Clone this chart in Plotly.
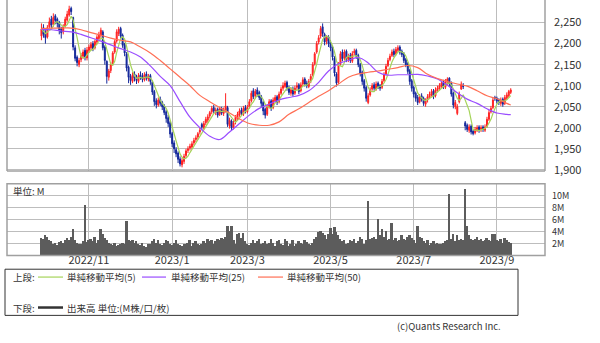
import numpy as np
import pandas as pd
import plotly.graph_objects as go

# ---------------- data ----------------
START_DATE = "2022-09-27"
END_DATE = "2023-09-12"
JP_HOLIDAYS = ["2022-10-10", "2022-11-03", "2022-11-23", "2023-01-02", "2023-01-03",
               "2023-01-09", "2023-02-23", "2023-03-21", "2023-05-03", "2023-05-04",
               "2023-05-05", "2023-07-17", "2023-08-11"]

open_ = [2218,2238,2226,2216,2240,2258,2246,2266,2258,2250,
         2236,2228,2242,2256,2268,2284,2262,2190,2168,2150,
         2162,2170,2184,2166,2184,2190,2200,2190,2204,2212,
         2220,2228,2192,2158,2120,2136,2152,2180,2206,2224,
         2236,2220,2198,2176,2144,2122,2110,2128,2120,2110,
         2126,2122,2114,2128,2116,2124,2108,2086,2064,2054,
         2068,2060,2052,2038,2024,2012,1986,1964,1948,1940,
         1926,1912,1920,1934,1946,1952,1954,1964,1972,1978,
         1990,2008,2000,2012,2018,2028,2038,2048,2036,2044,
         2032,2046,2034,2040,2048,2004,2016,2000,2014,2022,
         2030,2042,2032,2048,2038,2050,2064,2088,2076,2090,
         2084,2074,2060,2044,2032,2052,2064,2048,2064,2074,
         2062,2082,2094,2098,2108,2096,2082,2092,2082,2096,
         2102,2088,2104,2116,2106,2098,2112,2126,2152,2180,
         2204,2218,2240,2222,2206,2216,2202,2192,2166,2128,
         2108,2152,2180,2166,2182,2162,2172,2158,2178,2184,
         2172,2150,2132,2112,2096,2060,2078,2092,2102,2092,
         2106,2100,2096,2112,2128,2148,2162,2172,2182,2176,
         2184,2192,2182,2176,2162,2152,2136,2112,2096,2082,
         2072,2062,2076,2070,2056,2066,2072,2078,2088,2076,
         2088,2092,2098,2108,2096,2108,2118,2106,2082,2050,
         2034,2062,2092,2100,2012,2006,1994,2004,1992,1988,
         1994,2002,1996,2002,1994,2004,2020,2038,2048,2072,
         2070,2066,2058,2068,2058,2070,2076,2084]

high = [2248,2246,2232,2244,2262,2266,2272,2270,2262,2254,
        2240,2246,2264,2278,2290,2288,2264,2196,2172,2166,
        2178,2186,2190,2192,2198,2204,2206,2210,2220,2228,
        2238,2232,2196,2160,2140,2156,2182,2210,2234,2240,
        2240,2224,2202,2180,2148,2128,2132,2134,2126,2130,
        2134,2130,2132,2134,2128,2128,2112,2090,2070,2072,
        2074,2064,2056,2042,2030,2016,1990,1970,1954,1944,
        1932,1928,1938,1950,1956,1962,1968,1976,1982,1990,
        2000,2012,2016,2026,2032,2040,2052,2054,2048,2048,
        2050,2050,2048,2082,2052,2024,2020,2018,2030,2038,
        2046,2048,2052,2054,2054,2068,2088,2094,2092,2096,
        2088,2078,2064,2048,2056,2068,2068,2072,2078,2078,
        2086,2098,2108,2112,2112,2100,2096,2098,2100,2108,
        2106,2108,2120,2120,2112,2116,2128,2156,2180,2206,
        2220,2242,2248,2226,2220,2220,2208,2196,2170,2132,
        2156,2182,2186,2186,2186,2176,2178,2182,2188,2188,
        2176,2154,2136,2116,2100,2082,2096,2106,2108,2110,
        2110,2104,2116,2132,2152,2166,2176,2186,2188,2192,
        2196,2196,2186,2180,2166,2156,2140,2116,2100,2086,
        2078,2080,2082,2074,2070,2080,2086,2092,2092,2096,
        2100,2106,2112,2114,2116,2120,2120,2110,2086,2066,
        2056,2086,2110,2106,2016,2010,2008,2008,1996,2002,
        2006,2006,2006,2006,2008,2026,2042,2052,2072,2076,
        2074,2070,2072,2072,2078,2084,2090,2094]

low = [2208,2214,2200,2212,2236,2236,2240,2246,2238,2222,
       2212,2222,2238,2252,2264,2268,2184,2158,2146,2144,
       2156,2164,2160,2160,2178,2184,2182,2186,2198,2206,
       2214,2184,2150,2105,2112,2130,2148,2176,2202,2218,
       2212,2190,2170,2134,2106,2102,2106,2110,2104,2106,
       2114,2108,2110,2112,2110,2102,2078,2052,2046,2050,
       2052,2042,2030,2012,2002,1976,1954,1940,1930,1916,
       1908,1906,1914,1928,1940,1946,1950,1958,1966,1972,
       1984,1994,1996,2006,2012,2022,2032,2034,2030,2024,
       2028,2030,2028,2036,2002,1998,1993,1996,2008,2018,
       2026,2028,2028,2034,2034,2046,2060,2068,2070,2074,
       2066,2050,2030,2022,2028,2046,2040,2044,2060,2054,
       2058,2078,2088,2094,2088,2078,2076,2074,2078,2090,
       2080,2084,2098,2098,2094,2094,2106,2122,2148,2176,
       2198,2212,2216,2196,2198,2192,2182,2160,2122,2098,
       2104,2148,2158,2160,2156,2156,2154,2154,2172,2164,
       2144,2122,2102,2086,2062,2056,2074,2088,2088,2088,
       2092,2088,2092,2108,2124,2144,2158,2168,2168,2172,
       2180,2174,2168,2154,2144,2128,2102,2086,2072,2062,
       2054,2058,2062,2052,2050,2060,2068,2074,2068,2072,
       2084,2088,2094,2092,2092,2102,2098,2074,2046,2044,
       2030,2058,2090,2092,1994,1990,1988,1984,1982,1984,
       1990,1988,1990,1990,1990,2000,2016,2034,2044,2064,
       2058,2054,2052,2050,2054,2066,2072,2080]

close = [2235,2222,2214,2238,2252,2244,2262,2255,2248,2232,
         2226,2240,2258,2270,2282,2276,2192,2165,2155,2160,
         2172,2180,2168,2185,2192,2198,2188,2205,2215,2222,
         2232,2190,2160,2122,2135,2150,2178,2205,2228,2234,
         2218,2196,2178,2142,2120,2112,2125,2118,2112,2124,
         2120,2115,2126,2118,2122,2110,2085,2062,2055,2066,
         2058,2050,2036,2022,2010,1985,1962,1950,1938,1925,
         1914,1922,1932,1945,1950,1956,1962,1970,1976,1986,
         1994,2002,2010,2020,2026,2036,2046,2040,2042,2030,
         2045,2035,2042,2052,2008,2018,2000,2012,2025,2032,
         2040,2034,2046,2040,2048,2062,2082,2074,2086,2080,
         2072,2058,2040,2030,2050,2062,2046,2066,2072,2060,
         2080,2092,2100,2106,2094,2084,2090,2080,2094,2100,
         2086,2102,2114,2104,2100,2110,2122,2150,2176,2200,
         2214,2236,2224,2204,2214,2200,2190,2168,2130,2106,
         2150,2176,2164,2180,2164,2170,2160,2176,2182,2170,
         2150,2130,2110,2094,2070,2076,2090,2100,2094,2104,
         2098,2094,2110,2126,2146,2160,2170,2180,2174,2186,
         2190,2180,2174,2160,2150,2134,2110,2094,2080,2070,
         2060,2074,2068,2058,2064,2074,2080,2086,2074,2090,
         2094,2100,2106,2098,2110,2116,2104,2080,2054,2060,
         2050,2080,2104,2098,2004,1996,2002,1990,1986,1996,
         2000,1994,2000,1996,2002,2020,2036,2046,2066,2070,
         2064,2060,2066,2056,2072,2078,2086,2090]

volume_m = [3.0,2.8,3.4,3.2,2.6,2.4,2.0,2.2,1.8,2.3,
            2.5,2.2,2.7,2.9,2.6,3.1,4.4,2.6,2.2,1.9,
            2.0,2.4,8.5,2.3,2.6,2.8,2.5,3.2,2.2,2.7,
            4.4,3.6,3.0,2.6,2.2,1.9,1.8,2.1,1.6,1.8,
            1.9,2.2,2.0,5.8,2.6,2.4,2.6,2.2,2.4,2.0,
            1.8,2.2,1.7,1.5,1.9,2.0,2.4,2.8,2.2,2.6,
            2.0,1.8,2.2,2.6,2.4,2.0,1.8,2.1,2.6,1.9,
            1.8,1.7,1.9,2.0,2.2,2.6,1.7,2.1,2.4,2.0,
            1.8,2.0,2.4,2.2,2.8,2.4,2.6,2.0,2.4,2.8,
            2.6,3.0,2.8,3.2,4.9,4.2,4.9,2.6,2.0,3.6,
            3.8,3.0,3.8,2.4,2.0,1.8,2.1,2.6,2.2,2.4,
            2.8,2.0,2.2,2.4,1.9,2.2,2.8,2.2,1.6,2.4,
            2.6,2.0,1.8,2.8,2.4,1.6,2.0,2.6,1.7,1.9,
            2.4,2.2,2.0,2.6,2.3,2.0,1.8,2.2,2.8,3.2,
            4.0,4.2,3.8,3.4,2.8,3.6,4.6,3.6,4.8,4.0,
            3.4,2.8,2.4,2.6,2.0,2.2,2.6,2.4,2.8,2.2,
            2.4,3.2,2.8,2.0,2.6,9.2,2.8,3.0,3.2,2.8,
            6.2,3.4,4.4,3.2,4.1,2.6,2.8,5.4,2.6,3.0,
            2.4,2.6,3.4,2.8,2.6,3.2,3.4,3.0,2.6,2.2,
            4.9,3.2,3.0,2.4,2.2,2.6,1.8,2.2,2.4,2.0,
            2.2,1.9,2.0,2.2,2.4,2.6,10.3,2.8,3.6,2.4,
            3.4,2.6,2.8,2.6,11.1,5.0,3.4,2.8,2.6,2.8,
            3.2,2.6,2.8,2.4,2.6,3.0,2.6,2.4,3.6,3.7,
            2.6,2.4,2.8,2.2,2.9,2.7,2.3,2.2]

# moving averages every 5 trading days (+ last day)
ma25 = [2234,2233,2230,2228,2222,2214,2206,2197,2188,2180,
        2168,2147,2122,2100,2062,2025,2000,1980,1972,1990,
        2010,2030,2046,2056,2066,2072,2077,2088,2108,2135,
        2152,2160,2167,2154,2132,2125,2126,2126,2127,2123,
        2116,2101,2083,2068,2058,2045,2035,2032,2031]
ma50 = [2236,2237,2237,2237,2233,2226,2220,2213,2208,2204,
        2192,2178,2160,2140,2120,2100,2077,2062,2048,2035,
        2021,2010,2006,2006,2014,2032,2045,2060,2075,2088,
        2104,2120,2128,2132,2135,2139,2143,2148,2143,2127,
        2117,2110,2104,2099,2088,2076,2069,2058,2054]

TICK_MONTHS = [(2022, 11), (2023, 1), (2023, 3), (2023, 5), (2023, 7), (2023, 9)]
TICK_LABELS = ["2022/11", "2023/1", "2023/3", "2023/5", "2023/7", "2023/9"]
PRICE_TICKS = [1900, 1950, 2000, 2050, 2100, 2150, 2200, 2250]
VOL_TICKS = [2, 4, 6, 8, 10]
VOL_LABELS = ["2M", "4M", "6M", "8M", "10M"]

# ---------------- build ----------------
N = len(close)
dates = pd.bdate_range(START_DATE, END_DATE, freq="C", holidays=JP_HOLIDAYS)[:N]
x = np.arange(N)
tickvals = [int(np.argmax((dates.year == y) & (dates.month == m))) for y, m in TICK_MONTHS]
ma5 = pd.Series(close).rolling(5, min_periods=1).mean()
ma_idx = list(range(0, N, 5)) + [N - 1]

W, H = 600, 343
def yp(px):
    return 1 - px / H

FONT = "Noto Sans CJK JP, Noto Sans, sans-serif"
TXT = "#333333"
GRID = "#bdbdbd"
BORDER = "#a0a0a0"
C5, C25, C50 = "#a6d45a", "#9a4dff", "#ff6f55"
UP, DOWN = "#ff2222", "#13279a"

fig = go.Figure()
fig.add_trace(go.Candlestick(
    x=x, open=open_, high=high, low=low, close=close,
    increasing=dict(line=dict(color=UP, width=1), fillcolor=UP),
    decreasing=dict(line=dict(color=DOWN, width=1), fillcolor=DOWN),
    whiskerwidth=0, xaxis="x", yaxis="y", hoverinfo="skip", showlegend=False))
fig.add_trace(go.Scatter(x=x, y=ma5, mode="lines", line=dict(color=C5, width=1.2),
                         xaxis="x", yaxis="y", hoverinfo="skip", showlegend=False))
fig.add_trace(go.Scatter(x=ma_idx, y=ma25, mode="lines", line=dict(color=C25, width=1.2, shape="spline"),
                         xaxis="x", yaxis="y", hoverinfo="skip", showlegend=False))
fig.add_trace(go.Scatter(x=ma_idx, y=ma50, mode="lines", line=dict(color=C50, width=1.2, shape="spline"),
                         xaxis="x", yaxis="y", hoverinfo="skip", showlegend=False))
fig.add_trace(go.Bar(x=x, y=volume_m, marker=dict(color="#5c5c5c", line=dict(width=0)),
                     xaxis="x2", yaxis="y2", hoverinfo="skip", showlegend=False))

XR = [-17.4, 254.3]
XD = [7 / W, 545 / W]
axis_common = dict(showgrid=True, gridcolor=GRID, gridwidth=1, zeroline=False, showline=False)
fig.update_layout(
    width=W, height=H, margin=dict(l=0, r=0, t=0, b=0),
    paper_bgcolor="white", plot_bgcolor="white",
    font=dict(family=FONT, color=TXT, size=11),
    bargap=0,
    xaxis=dict(domain=XD, range=XR, anchor="y", tickvals=tickvals, showticklabels=False,
               rangeslider=dict(visible=False), ticks="", **axis_common),
    xaxis2=dict(domain=XD, range=XR, anchor="y2", tickvals=tickvals, ticktext=TICK_LABELS,
                ticks="", tickfont=dict(size=11, color=TXT), ticklabelstandoff=-3, **axis_common),
    yaxis=dict(domain=[yp(174), 1], range=[1897.3, 2303.7], side="right", anchor="x",
               tickvals=PRICE_TICKS, tickformat=",d", ticks="", ticklabelstandoff=8,
               tickfont=dict(size=11, color=TXT), **axis_common),
    yaxis2=dict(domain=[yp(260), yp(187)], range=[0, 12], side="right", anchor="x2",
                tickvals=VOL_TICKS, ticktext=VOL_LABELS, ticks="", ticklabelstandoff=6,
                tickfont=dict(size=9, color=TXT), **axis_common),
)

shapes = []
# price panel frame (left, bottom, right)
for (x0, y0, x1, y1) in [(7, 0, 7, 174), (545, 0, 545, 174), (7, 174, 545, 174)]:
    shapes.append(dict(type="line", xref="paper", yref="paper", x0=x0 / W, x1=x1 / W,
                       y0=yp(y0), y1=yp(y1), line=dict(color=BORDER, width=1.5)))
# volume panel frame
shapes.append(dict(type="rect", xref="paper", yref="paper", x0=7 / W, x1=545 / W,
                   y0=yp(260), y1=yp(187), line=dict(color=BORDER, width=1.5)))
# legend box
shapes.append(dict(type="rect", xref="paper", yref="paper", x0=5 / W, x1=518 / W,
                   y0=yp(321), y1=yp(274), line=dict(color="#333333", width=1)))
# legend line samples
for (x0, x1, yy, col, wd) in [(38, 63, 282, C5, 1.2), (142, 166, 282, C25, 1.2),
                              (258, 283, 282, C50, 1.2), (38, 63, 313, "#333333", 2.5)]:
    shapes.append(dict(type="line", xref="paper", yref="paper", x0=x0 / W, x1=x1 / W,
                       y0=yp(yy), y1=yp(yy), line=dict(color=col, width=wd)))
fig.update_layout(shapes=shapes)

ann = []
def txt(t, xpx, ypx, size=9.5, anchor="left"):
    ann.append(dict(text=t, xref="paper", yref="paper", x=xpx / W, y=yp(ypx),
                    xanchor=anchor, yanchor="middle", showarrow=False,
                    font=dict(size=size, color=TXT, family=FONT)))
txt("単位: M", 11, 194)
txt("上段:", 11, 282)
txt("単純移動平均(5)", 65, 282)
txt("単純移動平均(25)", 169, 282)
txt("単純移動平均(50)", 285, 282)
txt("下段:", 11, 313)
txt("出来高 単位:(M株/口/枚)", 65, 313)
txt("(c)Quants Research Inc.", 503, 332, size=9.5, anchor="right")
fig.update_layout(annotations=ann)

fig.write_html("out.html", config={"displayModeBar": False})
